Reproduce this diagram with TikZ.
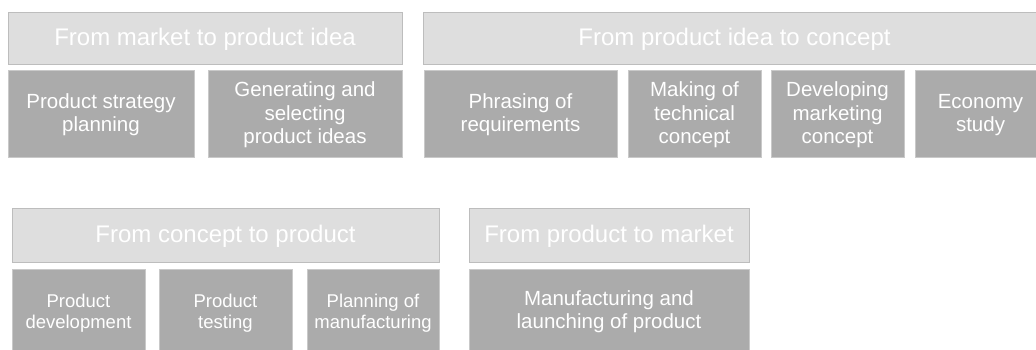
\documentclass[tikz,border=0pt]{standalone}
\usepackage{fontspec}
\setmainfont{Liberation Sans}
\definecolor{hdrfill}{HTML}{DEDEDE}
\definecolor{hdrline}{HTML}{BDBDBD}
\definecolor{boxfill}{HTML}{ABABAB}
\definecolor{boxline}{HTML}{C9C9C9}
\begin{document}
\begin{tikzpicture}[x=1pt,y=-1pt,
  hdr/.style={draw=hdrline,fill=hdrfill,line width=0.8pt,text=white,inner sep=0pt,
    font=\fontsize{24}{27}\selectfont},
  stepbox/.style={draw=boxline,fill=boxfill,line width=0.8pt,text=white,inner sep=0pt,
    font=\fontsize{20.5}{23.5}\selectfont},
  smallbox/.style={stepbox,font=\fontsize{18.5}{21.5}\selectfont}]
\useasboundingbox (0,0) rectangle (1036,350);
% boxes placed by corners; #7 = vertical text shift
\newcommand{\mybox}[8]{\node[#1,minimum width=#4-#2,minimum height=#5-#3] (#6) at ({(#2+#4)/2},{(#3+#5)/2})
  {\raisebox{-#7pt}[\height][\depth]{\begin{tabular}{@{}c@{}}#8\end{tabular}}}}
\mybox{hdr}{8}{12}{402}{64}{h1}{2}{From market to product idea};
\mybox{stepbox}{8}{70}{194}{157}{b11}{2}{Product strategy\\planning};
\mybox{stepbox}{208}{70}{402}{157}{b12}{2}{Generating and\\selecting\\product ideas};
\mybox{hdr}{423}{12}{1046}{64}{h2}{2}{From product idea to concept};
\mybox{stepbox}{424}{70}{617}{157}{b21}{2}{Phrasing of\\requirements};
\mybox{stepbox}{628}{70}{761}{157}{b22}{2}{Making of\\technical\\concept};
\mybox{stepbox}{771}{70}{904}{157}{b23}{2}{Developing\\marketing\\concept};
\mybox{stepbox}{915}{70}{1046}{157}{b24}{2}{Economy\\study};
\mybox{hdr}{12}{208}{439}{262}{h3}{2}{From concept to product};
\mybox{smallbox}{12}{269}{145}{352}{b31}{3}{Product\\development};
\mybox{smallbox}{159}{269}{292}{352}{b32}{3}{Product\\testing};
\mybox{smallbox}{307}{269}{439}{352}{b33}{3}{Planning of\\manufacturing};
\mybox{hdr}{469}{208}{749}{262}{h4}{2}{From product to market};
\mybox{stepbox}{469}{269}{749}{352}{b41}{2}{Manufacturing and\\launching of product};
\end{tikzpicture}
\end{document}
